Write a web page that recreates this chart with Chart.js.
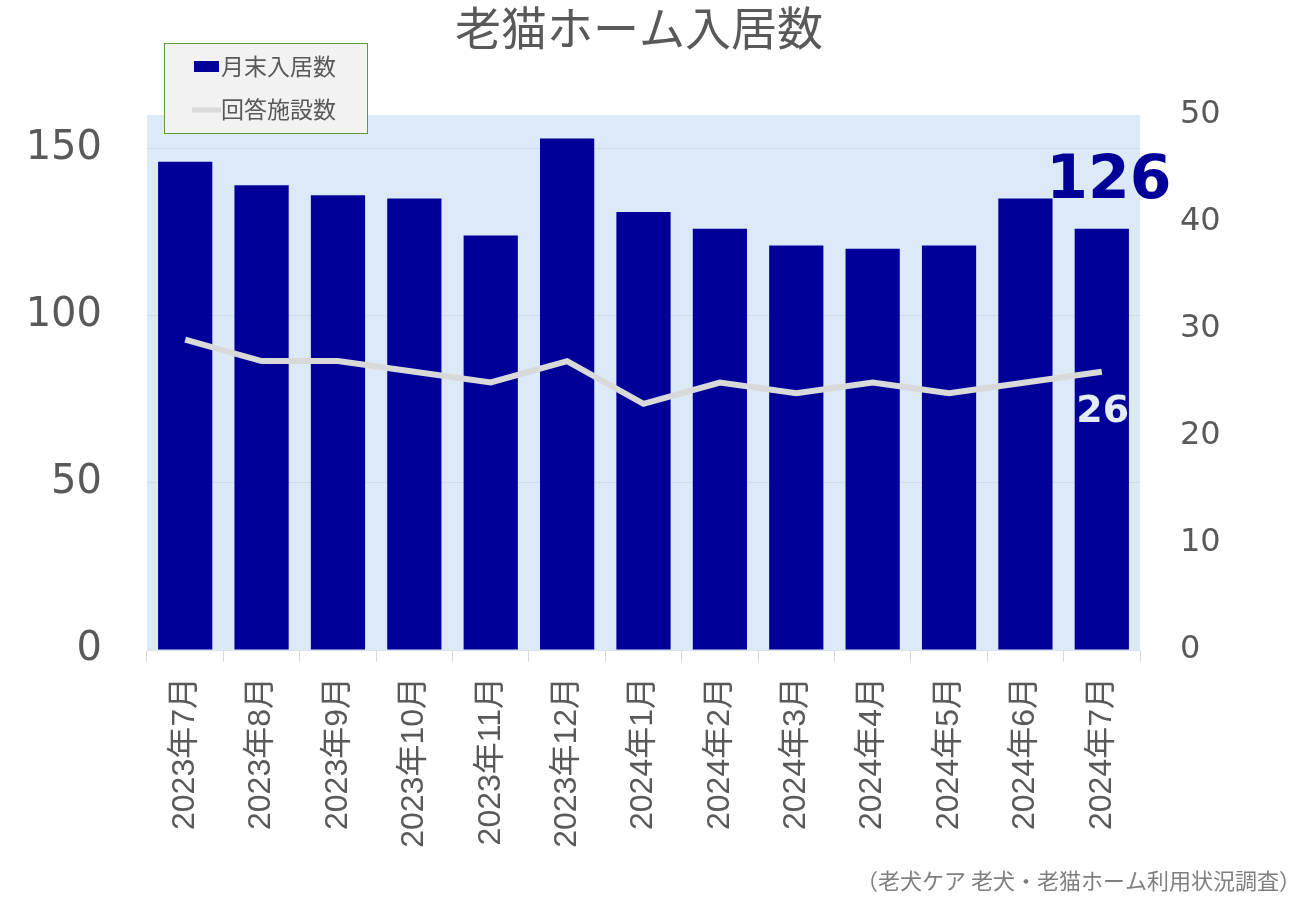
<!DOCTYPE html>
<html>
<head>
<meta charset="utf-8">
<script src="https://cdn.jsdelivr.net/npm/chart.js@4.4.1/dist/chart.umd.min.js"></script>
<style>
html,body{margin:0;padding:0;background:#fff;}
#wrap{width:1300px;height:900px;position:relative;}
</style>
</head>
<body>
<div id="wrap"><canvas id="c" width="1300" height="900"></canvas></div>
<script>
const titleText = '老猫ホーム入居数';
const sourceText = '（老犬ケア 老犬・老猫ホーム利用状況調査）';
const categories = ['2023年7月','2023年8月','2023年9月','2023年10月','2023年11月','2023年12月','2024年1月','2024年2月','2024年3月','2024年4月','2024年5月','2024年6月','2024年7月'];
const residents = [146,139,136,135,124,153,131,126,121,120,121,135,126];
const facilities = [29,27,27,26,25,27,23,25,24,25,24,25,26];
const leftTicks = [0,50,100,150];
const rightTicks = [0,10,20,30,40,50];

const GRAY = '#595959';
const BAR = '#000099';
const LINE = '#d9d9d9';
const JP = '"Noto Sans CJK JP", sans-serif';
const NUM = '"DejaVu Sans", "Noto Sans CJK JP", sans-serif';

const decor = {
  id: 'decor',
  beforeDraw(chart) {
    const {ctx, chartArea: a} = chart;
    ctx.save();
    ctx.fillStyle = '#dce9f7';
    ctx.fillRect(a.left, a.top, a.right - a.left, a.bottom - a.top);
    ctx.restore();
  },
  afterDraw(chart) {
    const {ctx} = chart;
    const xs = chart.scales.x, yl = chart.scales.y, yr = chart.scales.y1;
    const barDs = chart.data.datasets.find(d => d.type === 'bar');
    const lineDs = chart.data.datasets.find(d => d.type === 'line');
    ctx.save();
    // title
    ctx.fillStyle = GRAY;
    ctx.font = '46px ' + JP;
    ctx.textAlign = 'center';
    ctx.textBaseline = 'middle';
    ctx.fillText(titleText, 639, 28);
    // legend
    ctx.fillStyle = '#f2f2f2';
    ctx.fillRect(164.5, 43.5, 203, 90);
    ctx.strokeStyle = '#5b9a3d';
    ctx.lineWidth = 1;
    ctx.strokeRect(164.5, 43.5, 203, 90);
    ctx.fillStyle = barDs.backgroundColor;
    ctx.fillRect(194, 61, 25, 11);
    ctx.strokeStyle = lineDs.borderColor;
    ctx.lineWidth = 5;
    ctx.beginPath(); ctx.moveTo(192, 110); ctx.lineTo(221, 110); ctx.stroke();
    ctx.fillStyle = GRAY;
    ctx.font = '23px ' + JP;
    ctx.textAlign = 'left';
    ctx.fillText(barDs.label, 221, 66);
    ctx.fillText(lineDs.label, 221, 109);
    // last value annotations
    const n = categories.length - 1;
    const xl = xs.getPixelForValue(n);
    ctx.textAlign = 'center';
    ctx.fillStyle = BAR;
    ctx.font = 'bold 60px ' + NUM;
    ctx.fillText(String(residents[n]), xl + 7, yl.getPixelForValue(residents[n]) - 46);
    ctx.fillStyle = '#e3ecf7';
    ctx.font = 'bold 38px ' + NUM;
    ctx.fillText(String(facilities[n]), xl + 1, yr.getPixelForValue(facilities[n]) + 40);
    // source
    ctx.fillStyle = '#7f7f7f';
    ctx.font = '22px ' + JP;
    ctx.textAlign = 'right';
    ctx.fillText(sourceText, 1301, 881);
    ctx.restore();
  }
};

new Chart(document.getElementById('c'), {
  data: {
    labels: categories,
    datasets: [
      {
        type: 'line', label: '回答施設数', data: facilities, yAxisID: 'y1',
        borderColor: LINE, backgroundColor: LINE, borderWidth: 6,
        pointRadius: 0, tension: 0, order: 0
      },
      {
        type: 'bar', label: '月末入居数', data: residents, yAxisID: 'y',
        backgroundColor: BAR, borderWidth: 0,
        categoryPercentage: 1, barPercentage: 0.71, order: 1
      }
    ]
  },
  options: {
    responsive: false,
    animation: false,
    layout: { padding: { top: 115, left: 0, right: 0, bottom: 0 } },
    plugins: { legend: { display: false }, tooltip: { enabled: false }, title: { display: false } },
    scales: {
      x: {
        offset: true,
        grid: { display: true, drawOnChartArea: false, drawTicks: true, tickLength: 12, color: '#d9d9d9', offset: true },
        border: { display: true, color: '#d9e3ee' },
        ticks: { color: GRAY, font: { size: 32, family: '"Liberation Sans", "Noto Sans CJK JP", sans-serif' }, minRotation: 90, maxRotation: 90, padding: 15, autoSkip: false },
        afterFit(s) { s.height = 250; }
      },
      y: {
        position: 'left', min: 0, max: 160,
        afterBuildTicks(s) { s.ticks = leftTicks.map(v => ({ value: v })); },
        grid: { color: 'rgba(180,195,215,0.35)', drawTicks: false },
        border: { display: false },
        ticks: { color: GRAY, font: { size: 40, family: NUM }, padding: 45 },
        afterFit(s) { s.width = 147; }
      },
      y1: {
        position: 'right', min: 0, max: 50,
        afterBuildTicks(s) { s.ticks = rightTicks.map(v => ({ value: v })); },
        grid: { display: false, drawTicks: false },
        border: { display: false },
        ticks: { color: GRAY, font: { size: 32, family: NUM }, padding: 40 },
        afterFit(s) { s.width = 160; }
      }
    }
  },
  plugins: [decor]
});
</script>
</body>
</html>
